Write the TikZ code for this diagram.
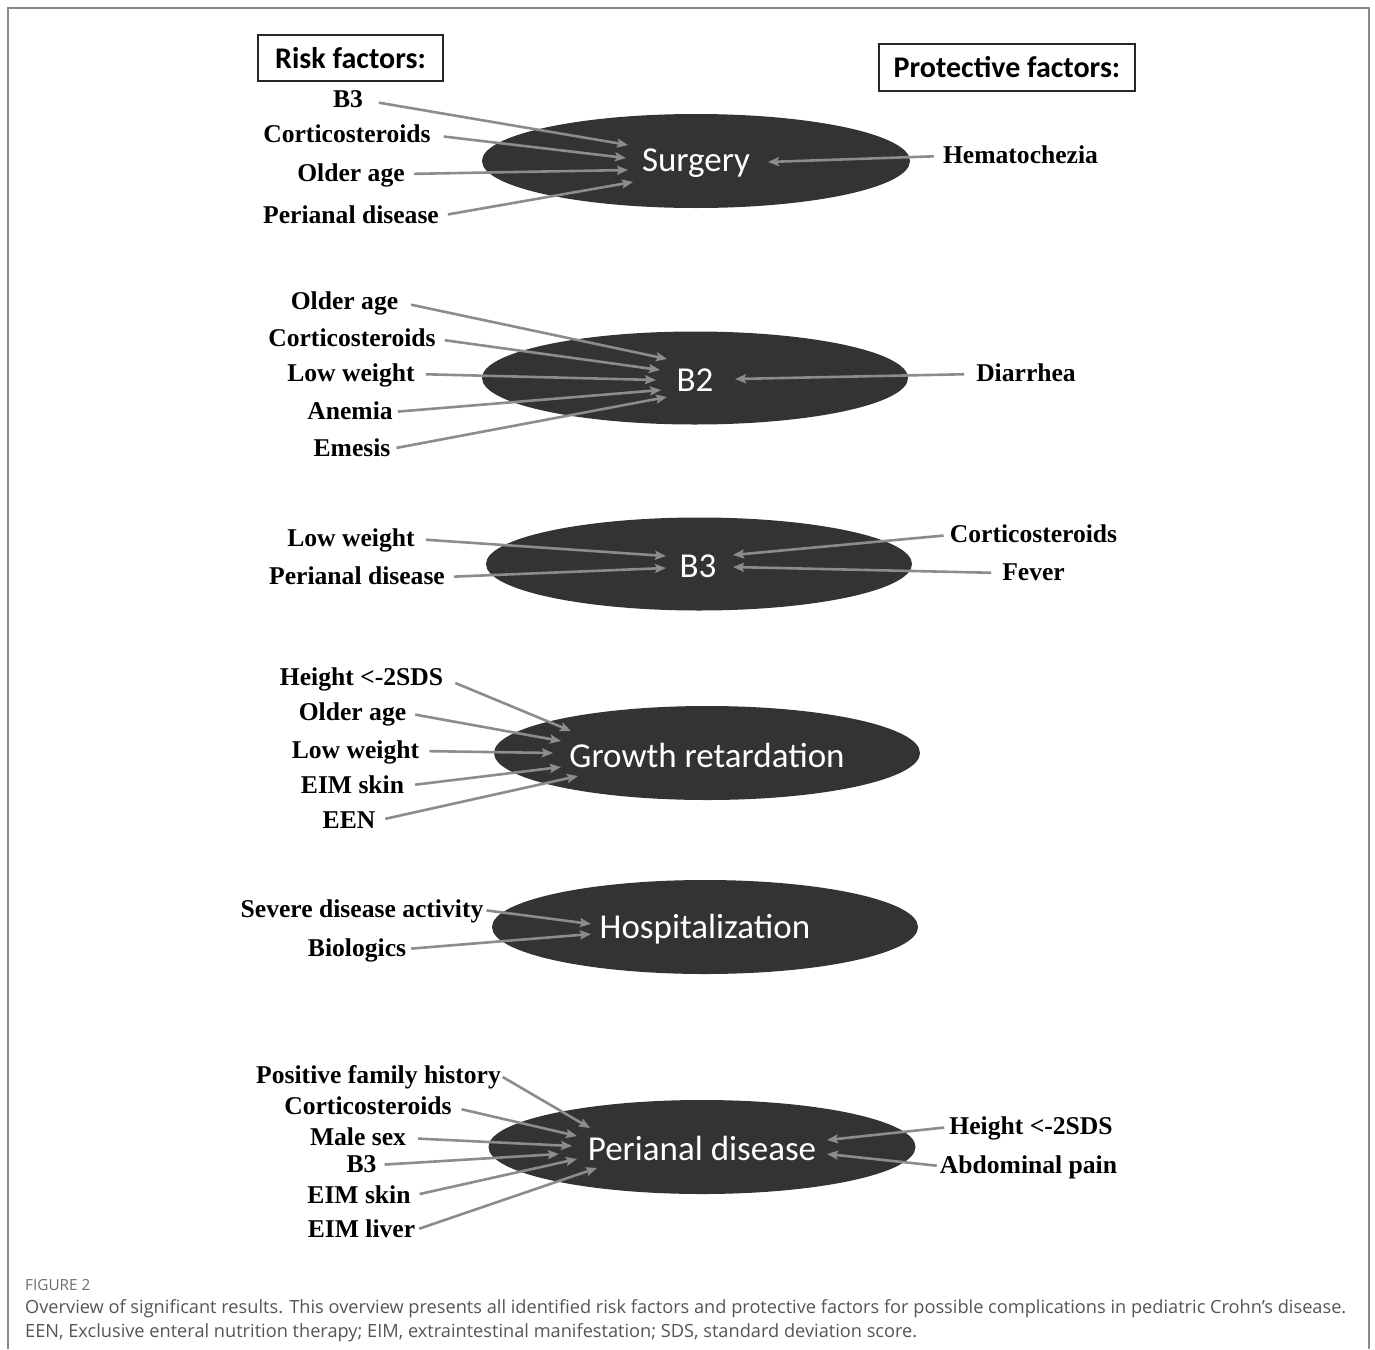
\documentclass[tikz,border=0pt]{standalone}
\usepackage{fontspec}
\setmainfont{Liberation Serif}
\newfontfamily\calfont{Carlito}
\newfontfamily\capfont{Open Sans}
\usetikzlibrary{arrows.meta}
\definecolor{ellfill}{HTML}{333333}
\definecolor{arrgray}{HTML}{8C8C8C}
\definecolor{capgray}{HTML}{555555}
\definecolor{framegray}{HTML}{8A8A8A}
\tikzset{
  outcome/.style={ellipse, fill=ellfill, inner sep=0pt},
  outtext/.style={text=white, font=\calfont\fontsize{35}{40}\selectfont, inner sep=0pt},
  factor/.style={font=\bfseries\fontsize{25.6}{30}\selectfont, text height=18pt, text depth=4pt, inner sep=0pt},
  header/.style={draw=black!85, line width=1.2pt, font=\calfont\bfseries\fontsize{30}{36}\selectfont, inner sep=0pt},
  link/.style={draw=arrgray, line width=2.6pt, -{Stealth[length=11pt,width=9pt,inset=2pt]}, shorten <=9pt},
  captext/.style={anchor=west, inner sep=0pt, text=capgray, font=\capfont\fontsize{18.2}{22}\selectfont},
}
\begin{document}
\begin{tikzpicture}[x=1pt,y=-1pt]
\useasboundingbox (0,0) rectangle (1375,1349);
\fill[white] (0,0) rectangle (1375,1349);
\draw[framegray, line width=1.5pt] (8,1349) -- (8,8) -- (1369,8) -- (1369,1349);

% headers
\node[header, minimum width=185pt, minimum height=46pt] (hrisk) at (350.5,58) {Risk factors:};
\node[header, minimum width=256pt, minimum height=47pt] (hprot) at (1007,67.5) {Protective factors:};

% ellipses
\fill[ellfill] (696,161) ellipse [x radius=214, y radius=47];
\fill[ellfill] (695,378) ellipse [x radius=213, y radius=46.5];
\fill[ellfill] (699,564) ellipse [x radius=213, y radius=46.5];
\fill[ellfill] (707,753) ellipse [x radius=213, y radius=47];
\fill[ellfill] (705,927) ellipse [x radius=213, y radius=47];
\fill[ellfill] (702,1147) ellipse [x radius=213.5, y radius=47];

\node[outtext] (surg) at (696,163) {Surgery};
\node[outtext] (btwo) at (695,380) {B2};
\node[outtext] (bthree) at (698,566) {B3};
\node[outtext] (growth) at (707,755) {Growth retardation};
\node[outtext] (hosp) at (705,929) {Hospitalization};
\node[outtext] (peri) at (702,1148) {Perianal disease};

% ---------- Surgery
\node[factor] (s1) at (348,100) {B3};
\node[factor] (s2) at (347,135) {Corticosteroids};
\node[factor] (s3) at (351,174) {Older age};
\node[factor] (s4) at (351,216) {Perianal disease};
\node[factor] (s5) at (1020.5,156) {Hematochezia};
\coordinate (t1) at (628,145);
\coordinate (t2) at (626,158);
\coordinate (t3) at (628,170);
\coordinate (t4) at (633,182);
\coordinate (t5) at (768,162);
\draw[link, shorten <=16pt] (s1.east) -- (t1);
\draw[link, shorten <=13pt] (s2.east) -- (t2);
\draw[link] (s3.east) -- (t3);
\draw[link] (s4.east) -- (t4);
\draw[link] (s5.west) -- (t5);

% ---------- B2
\node[factor] (b1) at (344.5,302) {Older age};
\node[factor] (b2) at (352,339) {Corticosteroids};
\node[factor] (b3) at (351,374) {Low weight};
\node[factor] (b4) at (350,412) {Anemia};
\node[factor] (b5) at (352,449) {Emesis};
\node[factor] (b6) at (1026,374) {Diarrhea};
\coordinate (u1) at (667,359);
\coordinate (u2) at (660,370);
\coordinate (u3) at (656,380);
\coordinate (u4) at (661,390);
\coordinate (u5) at (667,397);
\coordinate (u6) at (735,379);
\draw[link, shorten <=13pt] (b1.east) -- (u1);
\draw[link] (b2.east) -- (u2);
\draw[link, shorten <=11pt] (b3.east) -- (u3);
\draw[link, shorten <=5pt] (b4.east) -- (u4);
\draw[link, shorten <=6pt] (b5.east) -- (u5);
\draw[link, shorten <=12pt] (b6.west) -- (u6);

% ---------- B3
\node[factor] (c1) at (351,539) {Low weight};
\node[factor] (c2) at (357,577) {Perianal disease};
\node[factor] (c3) at (1033.5,535) {Corticosteroids};
\node[factor] (c4) at (1033.5,573) {Fever};
\coordinate (v1) at (666,556);
\coordinate (v2) at (666,568);
\coordinate (v3) at (733,555);
\coordinate (v4) at (733,567);
\draw[link, shorten <=11pt] (c1.east) -- (v1);
\draw[link] (c2.east) -- (v2);
\draw[link, shorten <=6pt] (c3.west) -- (v3);
\draw[link, shorten <=11pt] (c4.west) -- (v4);

% ---------- Growth retardation
\node[factor] (g1) at (361.5,678) {Height <-2SDS};
\node[factor] (g2) at (352.5,713) {Older age};
\node[factor] (g3) at (355.5,751) {Low weight};
\node[factor] (g4) at (352.5,786) {EIM skin};
\node[factor] (g5) at (349,821) {EEN};
\coordinate (w1) at (571,731);
\coordinate (w2) at (561,741);
\coordinate (w3) at (553,753);
\coordinate (w4) at (561,767);
\coordinate (w5) at (578,776);
\draw[link, shorten <=13pt] (g1.east) -- (w1);
\draw[link] (g2.east) -- (w2);
\draw[link, shorten <=10pt] (g3.east) -- (w3);
\draw[link, shorten <=11pt] (g4.east) -- (w4);
\draw[link, shorten <=10pt] (g5.east) -- (w5);

% ---------- Hospitalization
\node[factor] (h1) at (362,910) {Severe disease activity};
\node[factor] (h2) at (357,949) {Biologics};
\coordinate (x1) at (591,924);
\coordinate (x2) at (591,934);
\draw[link, shorten <=3pt] (h1.east) -- (x1);
\draw[link, shorten <=5pt] (h2.east) -- (x2);

% ---------- Perianal disease
\node[factor] (p1) at (378.5,1076) {Positive family history};
\node[factor] (p2) at (368,1107) {Corticosteroids};
\node[factor] (p3) at (358,1138) {Male sex};
\node[factor] (p4) at (361.5,1165) {B3};
\node[factor] (p5) at (359,1196) {EIM skin};
\node[factor] (p6) at (361.5,1230) {EIM liver};
\node[factor] (p7) at (1031,1127) {Height <-2SDS};
\node[factor] (p8) at (1028.5,1166) {Abdominal pain};
\coordinate (y1) at (590,1128);
\coordinate (y2) at (577,1136);
\coordinate (y3) at (572,1146);
\coordinate (y4) at (559,1154);
\coordinate (y5) at (577,1159);
\coordinate (y6) at (597,1168);
\coordinate (y7) at (827,1140);
\coordinate (y8) at (827,1154);
\draw[link, shorten <=2pt] (p1.east) -- (y1);
\draw[link, shorten <=10pt] (p2.east) -- (y2);
\draw[link, shorten <=12pt] (p3.east) -- (y3);
\draw[link, shorten <=8pt] (p4.east) -- (y4);
\draw[link, shorten <=9pt] (p5.east) -- (y5);
\draw[link, shorten <=4pt] (p6.east) -- (y6);
\draw[link, shorten <=5pt] (p7.west) -- (y7);
\draw[link, shorten <=3pt] (p8.west) -- (y8);

% ---------- Caption
\node[anchor=west, inner sep=0pt, text=capgray!85, font=\capfont\fontsize{15.3}{18}\selectfont] (figlab) at (25,1285) {FIGURE 2};
\node[captext] (cap1) at (25,1309) {Overview of significant results. This overview presents all identified risk factors and protective factors for possible complications in pediatric Crohn’s disease.};
\node[captext] (cap2) at (25,1333) {EEN, Exclusive enteral nutrition therapy; EIM, extraintestinal manifestation; SDS, standard deviation score.};
\end{tikzpicture}
\end{document}
